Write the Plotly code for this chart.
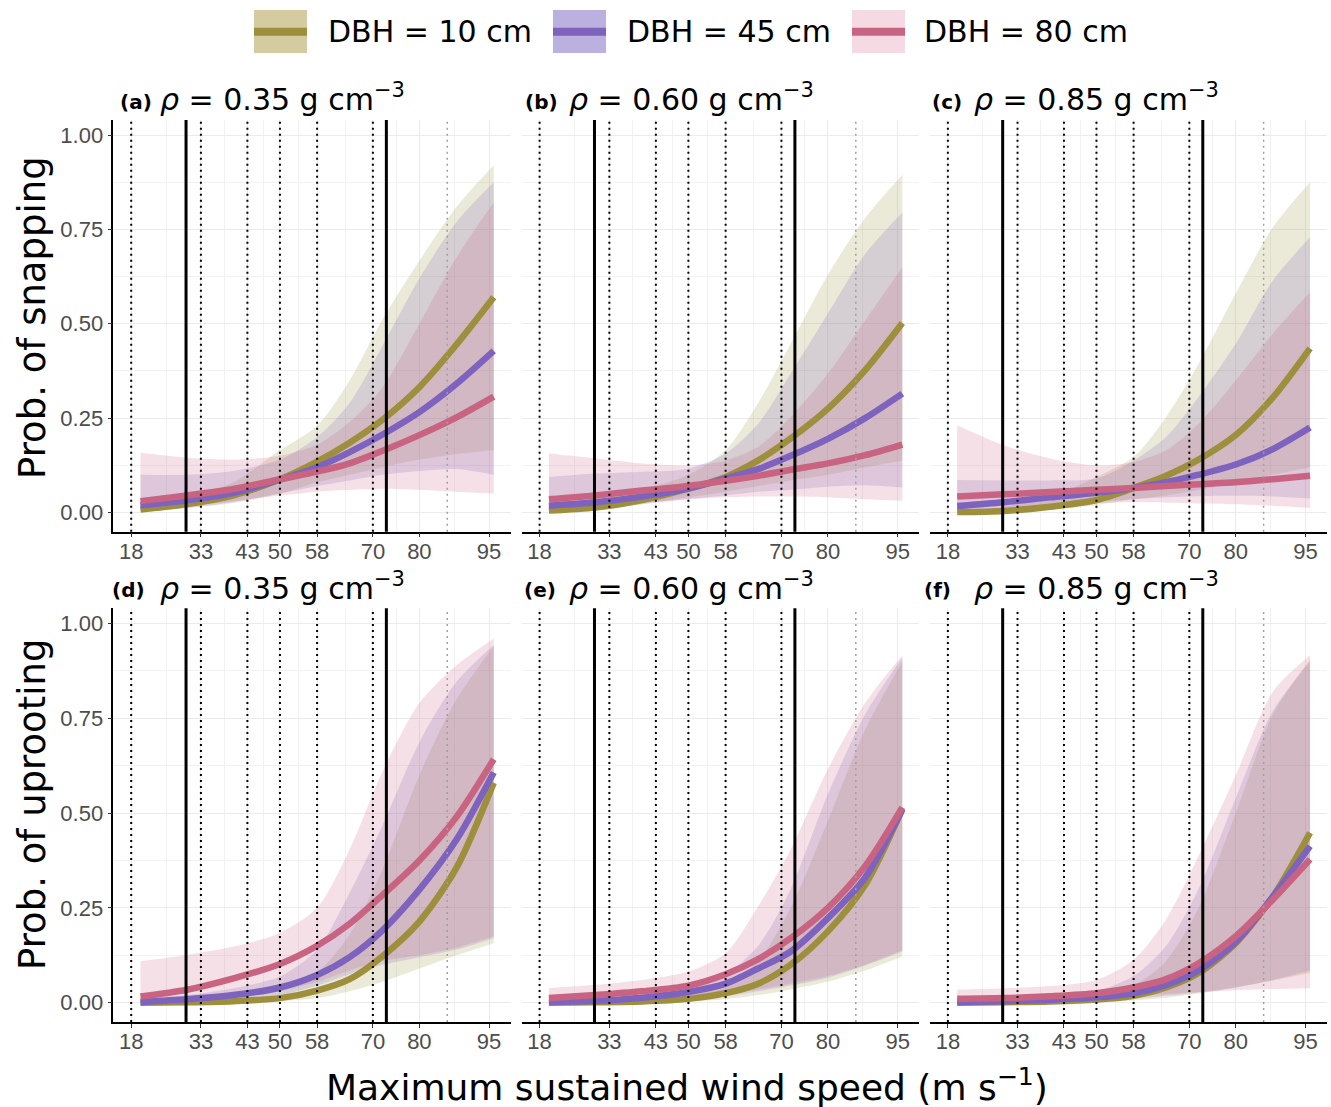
import plotly.graph_objects as go

# ---------------- data ----------------
wind = [20, 30, 40, 50, 58, 65, 72, 80, 88, 96]
x_ticks = [18, 33, 43, 50, 58, 70, 80, 95]
y_ticks = [0, 0.25, 0.5, 0.75, 1.0]
y_ticklabels = ["0.00", "0.25", "0.50", "0.75", "1.00"]
category_lines = [18, 33, 43, 50, 58, 70]      # dotted black
observed_lines = [29.8, 72.9]                  # solid black
extra_line = [86]                              # dotted grey
dbh_labels = ["DBH = 10 cm", "DBH = 45 cm", "DBH = 80 cm"]
panel_tags = ["(a)", "(b)", "(c)", "(d)", "(e)", "(f)"]
panel_rho = ["0.35", "0.60", "0.85", "0.35", "0.60", "0.85"]
y_titles = ["Prob. of snapping", "Prob. of uprooting"]

# (a) snapping, rho 0.35
a10_fit = [0.008, 0.022, 0.045, 0.088, 0.135, 0.185, 0.245, 0.332, 0.445, 0.57]
a10_lo = [0.003, 0.012, 0.025, 0.05, 0.08, 0.1, 0.12, 0.14, 0.155, 0.165]
a10_hi = [0.025, 0.04, 0.08, 0.165, 0.23, 0.35, 0.51, 0.667, 0.81, 0.92]
a45_fit = [0.019, 0.032, 0.052, 0.087, 0.12, 0.16, 0.206, 0.266, 0.341, 0.428]
a45_lo = [0.005, 0.012, 0.028, 0.05, 0.07, 0.085, 0.1, 0.11, 0.115, 0.1]
a45_hi = [0.1, 0.1, 0.11, 0.14, 0.2, 0.29, 0.44, 0.62, 0.77, 0.875]
a80_fit = [0.03, 0.045, 0.062, 0.088, 0.108, 0.13, 0.163, 0.205, 0.252, 0.307]
a80_lo = [0.01, 0.018, 0.03, 0.045, 0.055, 0.06, 0.063, 0.06, 0.055, 0.05]
a80_hi = [0.158, 0.145, 0.14, 0.15, 0.18, 0.24, 0.33, 0.5, 0.676, 0.822]

# (b) snapping, rho 0.60
b10_fit = [0.005, 0.013, 0.033, 0.063, 0.094, 0.138, 0.196, 0.275, 0.377, 0.502]
b10_lo = [0.003, 0.008, 0.022, 0.04, 0.055, 0.07, 0.085, 0.1, 0.12, 0.138]
b10_hi = [0.02, 0.03, 0.06, 0.1, 0.165, 0.29, 0.447, 0.63, 0.78, 0.895]
b45_fit = [0.018, 0.027, 0.042, 0.063, 0.09, 0.115, 0.15, 0.195, 0.25, 0.315]
b45_lo = [0.005, 0.012, 0.022, 0.035, 0.045, 0.055, 0.06, 0.068, 0.072, 0.066]
b45_hi = [0.094, 0.103, 0.108, 0.116, 0.156, 0.235, 0.368, 0.527, 0.685, 0.795]
b80_fit = [0.035, 0.045, 0.058, 0.07, 0.084, 0.097, 0.113, 0.13, 0.152, 0.18]
b80_lo = [0.008, 0.015, 0.025, 0.035, 0.04, 0.042, 0.042, 0.04, 0.035, 0.031]
b80_hi = [0.156, 0.143, 0.13, 0.125, 0.138, 0.174, 0.253, 0.368, 0.509, 0.65]

# (c) snapping, rho 0.85
c10_fit = [0.001, 0.004, 0.015, 0.033, 0.065, 0.097, 0.14, 0.205, 0.305, 0.435]
c10_lo = [0.0, 0.002, 0.008, 0.02, 0.035, 0.045, 0.06, 0.08, 0.1, 0.12]
c10_hi = [0.004, 0.015, 0.041, 0.094, 0.147, 0.253, 0.394, 0.58, 0.756, 0.875]
c45_fit = [0.017, 0.027, 0.04, 0.052, 0.065, 0.08, 0.1, 0.127, 0.168, 0.225]
c45_lo = [0.004, 0.01, 0.018, 0.028, 0.035, 0.04, 0.043, 0.044, 0.042, 0.037]
c45_hi = [0.086, 0.085, 0.085, 0.09, 0.138, 0.2, 0.306, 0.447, 0.615, 0.729]
c80_fit = [0.042, 0.048, 0.054, 0.06, 0.065, 0.07, 0.075, 0.08, 0.088, 0.097]
c80_lo = [0.007, 0.013, 0.02, 0.025, 0.027, 0.026, 0.024, 0.022, 0.018, 0.012]
c80_hi = [0.231, 0.178, 0.143, 0.125, 0.134, 0.165, 0.235, 0.35, 0.474, 0.584]

# (d) uprooting, rho 0.35
d10_fit = [0.0, 0.001, 0.004, 0.012, 0.032, 0.062, 0.122, 0.214, 0.356, 0.58]
d10_lo = [0.0, 0.0, 0.001, 0.004, 0.012, 0.03, 0.055, 0.09, 0.125, 0.157]
d10_hi = [0.001, 0.004, 0.012, 0.035, 0.08, 0.18, 0.35, 0.6, 0.8, 0.94]
d45_fit = [0.002, 0.009, 0.02, 0.04, 0.073, 0.12, 0.19, 0.298, 0.43, 0.607]
d45_lo = [0.0, 0.002, 0.007, 0.02, 0.045, 0.075, 0.1, 0.12, 0.14, 0.17]
d45_hi = [0.009, 0.02, 0.038, 0.069, 0.14, 0.29, 0.466, 0.687, 0.846, 0.943]
d80_fit = [0.016, 0.034, 0.064, 0.102, 0.15, 0.208, 0.283, 0.375, 0.49, 0.642]
d80_lo = [0.001, 0.004, 0.012, 0.03, 0.055, 0.085, 0.11, 0.125, 0.145, 0.175]
d80_hi = [0.109, 0.126, 0.148, 0.184, 0.25, 0.404, 0.607, 0.79, 0.89, 0.96]

# (e) uprooting, rho 0.60
e10_fit = [0.0, 0.001, 0.003, 0.01, 0.025, 0.05, 0.1, 0.188, 0.31, 0.51]
e10_lo = [0.0, 0.0, 0.001, 0.003, 0.009, 0.02, 0.035, 0.056, 0.085, 0.122]
e10_hi = [0.001, 0.003, 0.008, 0.022, 0.05, 0.11, 0.25, 0.48, 0.72, 0.9]
e45_fit = [0.002, 0.005, 0.013, 0.028, 0.05, 0.09, 0.135, 0.223, 0.33, 0.51]
e45_lo = [0.0, 0.001, 0.003, 0.008, 0.017, 0.03, 0.045, 0.066, 0.098, 0.135]
e45_hi = [0.005, 0.01, 0.02, 0.04, 0.075, 0.15, 0.3, 0.55, 0.76, 0.91]
e80_fit = [0.012, 0.02, 0.03, 0.045, 0.075, 0.115, 0.17, 0.25, 0.36, 0.515]
e80_lo = [0.001, 0.003, 0.007, 0.013, 0.023, 0.035, 0.05, 0.07, 0.1, 0.138]
e80_hi = [0.038, 0.047, 0.06, 0.082, 0.13, 0.254, 0.404, 0.616, 0.79, 0.916]

# (f) uprooting, rho 0.85
f10_fit = [0.0, 0.001, 0.003, 0.008, 0.018, 0.04, 0.078, 0.157, 0.28, 0.448]
f10_lo = [0.0, 0.0, 0.001, 0.002, 0.006, 0.013, 0.024, 0.04, 0.058, 0.078]
f10_hi = [0.001, 0.002, 0.006, 0.018, 0.045, 0.11, 0.25, 0.5, 0.76, 0.905]
f45_fit = [0.002, 0.004, 0.008, 0.014, 0.025, 0.047, 0.085, 0.16, 0.28, 0.413]
f45_lo = [0.0, 0.001, 0.002, 0.005, 0.01, 0.018, 0.027, 0.04, 0.06, 0.085]
f45_hi = [0.003, 0.005, 0.012, 0.03, 0.07, 0.15, 0.3, 0.54, 0.77, 0.9]
f80_fit = [0.01, 0.012, 0.017, 0.025, 0.04, 0.062, 0.104, 0.175, 0.272, 0.378]
f80_lo = [0.002, 0.003, 0.005, 0.01, 0.017, 0.023, 0.028, 0.033, 0.036, 0.038]
f80_hi = [0.034, 0.038, 0.044, 0.06, 0.113, 0.22, 0.387, 0.6, 0.82, 0.916]

panels_data = [
    [(a10_fit, a10_lo, a10_hi), (a45_fit, a45_lo, a45_hi), (a80_fit, a80_lo, a80_hi)],
    [(b10_fit, b10_lo, b10_hi), (b45_fit, b45_lo, b45_hi), (b80_fit, b80_lo, b80_hi)],
    [(c10_fit, c10_lo, c10_hi), (c45_fit, c45_lo, c45_hi), (c80_fit, c80_lo, c80_hi)],
    [(d10_fit, d10_lo, d10_hi), (d45_fit, d45_lo, d45_hi), (d80_fit, d80_lo, d80_hi)],
    [(e10_fit, e10_lo, e10_hi), (e45_fit, e45_lo, e45_hi), (e80_fit, e80_lo, e80_hi)],
    [(f10_fit, f10_lo, f10_hi), (f45_fit, f45_lo, f45_hi), (f80_fit, f80_lo, f80_hi)],
]

# ---------------- style ----------------
line_colors = ["#9D8F3C", "#7D62BE", "#C86482"]
band_colors = ["rgba(157,143,60,0.2)", "rgba(125,98,190,0.2)", "rgba(200,100,130,0.2)"]
key_fill = ["#D4CCA0", "#BCB0E0", "#F5DAE4"]
TITLE_FONT = "DejaVu Sans"
TICK_FONT = "Liberation Sans"

W, H = 1331, 1107
L, R, T, B = 113, 4, 120, 85
PW, PH = W - L - R, H - T - B


def px(x):
    return (x - L) / PW


def py(y):
    return (H - B - y) / PH


def clamp(v):
    return max(0.0, min(1.0, v))


x_domains = [[clamp(px(113.3)), clamp(px(510.7))],
             [clamp(px(521.7)), clamp(px(919.3))],
             [clamp(px(930)), 1.0]]
y_domains = [[clamp(py(531.7)), 1.0], [0.0, clamp(py(608.3))]]

fig = go.Figure()
shapes = []
annotations = []
layout_axes = {}

for i in range(6):
    n = "" if i == 0 else str(i + 1)
    row, col = divmod(i, 3)
    xa, ya = "x" + n, "y" + n
    for k, (fit, lo, hi) in enumerate(panels_data[i]):
        fig.add_trace(go.Scatter(x=wind, y=hi, xaxis=xa, yaxis=ya, mode="lines",
                                 line=dict(width=0, shape="spline", smoothing=0.8),
                                 showlegend=False, hoverinfo="skip"))
        fig.add_trace(go.Scatter(x=wind, y=lo, xaxis=xa, yaxis=ya, mode="lines",
                                 line=dict(width=0, shape="spline", smoothing=0.8),
                                 fill="tonexty", fillcolor=band_colors[k],
                                 showlegend=False, hoverinfo="skip"))
    for k, (fit, lo, hi) in enumerate(panels_data[i]):
        fig.add_trace(go.Scatter(x=wind, y=fit, xaxis=xa, yaxis=ya, mode="lines",
                                 line=dict(width=6.5, color=line_colors[k],
                                           shape="spline", smoothing=0.8),
                                 name=dbh_labels[k], showlegend=False))

    layout_axes["xaxis" + n] = dict(
        domain=x_domains[col], range=[14.15, 99.65], anchor=ya,
        tickmode="array", tickvals=x_ticks, ticktext=[str(v) for v in x_ticks],
        showline=True, linecolor="black", linewidth=1.5,
        ticks="outside", ticklen=4, tickwidth=1.2, tickcolor="#333333",
        ticklabelstandoff=-5,
        tickfont=dict(family=TICK_FONT, size=22, color="#4D4D4D"),
        showgrid=True, gridcolor="#EBEBEB", gridwidth=1.4, zeroline=False,
        minor=dict(tickvals=[25.5, 38, 46.5, 54, 64, 75, 87.5], showgrid=True,
                   gridcolor="#F2F2F2", gridwidth=0.8, ticks=""),
    )
    layout_axes["yaxis" + n] = dict(
        domain=y_domains[row], range=[-0.051, 1.04], anchor=xa,
        tickmode="array", tickvals=y_ticks, ticktext=y_ticklabels,
        showticklabels=(col == 0), showline=(col == 0), linecolor="black", linewidth=1.5,
        ticks="outside" if col == 0 else "", ticklen=4, tickwidth=1.2, tickcolor="#333333",
        tickfont=dict(family=TICK_FONT, size=22, color="#4D4D4D"),
        showgrid=True, gridcolor="#EBEBEB", gridwidth=1.4, zeroline=False,
        minor=dict(tickvals=[0.125, 0.375, 0.625, 0.875], showgrid=True,
                   gridcolor="#F2F2F2", gridwidth=0.8, ticks=""),
    )

    for v in category_lines:
        shapes.append(dict(type="line", xref=xa, yref=ya + " domain", x0=v, x1=v, y0=0, y1=1,
                           line=dict(color="black", width=2, dash="2px,4px"), layer="above"))
    for v in observed_lines:
        shapes.append(dict(type="line", xref=xa, yref=ya + " domain", x0=v, x1=v, y0=0, y1=1,
                           line=dict(color="black", width=3), layer="above"))
    for v in extra_line:
        shapes.append(dict(type="line", xref=xa, yref=ya + " domain", x0=v, x1=v, y0=0, y1=1,
                           line=dict(color="#A0A0A0", width=1.5, dash="2px,4px"), layer="above"))

# panel titles
tag_px = [(118, 102), (523, 102), (930, 102), (110, 590), (522, 590), (922, 590)]
rho_px = [(158, 98), (567, 98), (972, 98), (158, 586), (567, 586), (972, 586)]
for i in range(6):
    annotations.append(dict(xref="paper", yref="paper", x=px(tag_px[i][0]), y=py(tag_px[i][1]),
                            xanchor="left", yanchor="middle", showarrow=False,
                            text="<b>" + panel_tags[i] + "</b>",
                            font=dict(family=TITLE_FONT, size=20, color="black")))
    annotations.append(dict(xref="paper", yref="paper", x=px(rho_px[i][0]), y=py(rho_px[i][1]),
                            xanchor="left", yanchor="middle", showarrow=False,
                            text="<i>ρ</i> = " + panel_rho[i] + " g cm<sup>−3</sup>",
                            font=dict(family=TITLE_FONT, size=30, color="black")))

# axis titles
annotations.append(dict(xref="paper", yref="paper", x=px(687), y=py(1085),
                        xanchor="center", yanchor="middle", showarrow=False,
                        text="Maximum sustained wind speed (m s<sup>−1</sup>)",
                        font=dict(family=TITLE_FONT, size=36, color="black")))
for j, yc in enumerate([318, 805]):
    annotations.append(dict(xref="paper", yref="paper", x=px(32), y=py(yc),
                            xanchor="center", yanchor="middle", showarrow=False, textangle=-90,
                            text=y_titles[j],
                            font=dict(family=TITLE_FONT, size=37, color="black")))

# legend (manual)
key_x = [254, 553, 852]
text_x = [326, 625, 922]
for k in range(3):
    shapes.append(dict(type="rect", xref="paper", yref="paper",
                       x0=px(key_x[k]), x1=px(key_x[k] + 53), y0=py(53), y1=py(10),
                       fillcolor=key_fill[k], line=dict(width=0), layer="above"))
    shapes.append(dict(type="line", xref="paper", yref="paper",
                       x0=px(key_x[k]), x1=px(key_x[k] + 53), y0=py(31.7), y1=py(31.7),
                       line=dict(color=line_colors[k], width=8), layer="above"))
    annotations.append(dict(xref="paper", yref="paper", x=px(text_x[k]), y=py(32),
                            xanchor="left", yanchor="middle", showarrow=False,
                            text=dbh_labels[k],
                            font=dict(family=TITLE_FONT, size=30, color="black")))

fig.update_layout(
    width=W, height=H,
    margin=dict(l=L, r=R, t=T, b=B),
    paper_bgcolor="white", plot_bgcolor="white",
    showlegend=False,
    shapes=shapes, annotations=annotations,
    **layout_axes,
)

fig.write_html("out.html", config={"displayModeBar": False},
               post_script="document.body.style.margin='0px';document.body.style.overflow='hidden';")
